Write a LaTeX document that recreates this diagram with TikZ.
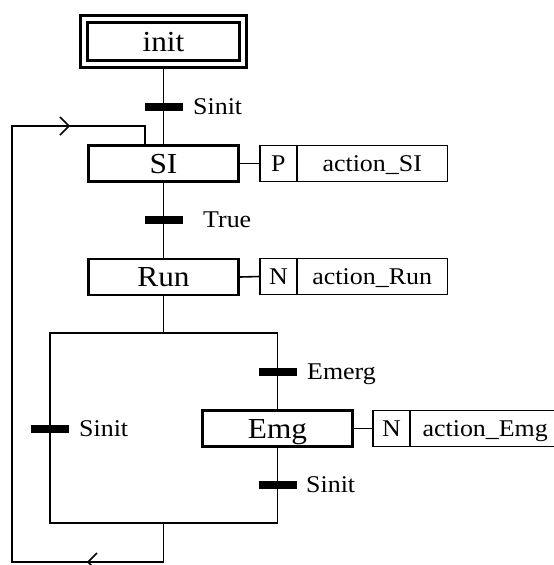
\documentclass[tikz,border=0pt]{standalone}
\usepackage{fontspec}
\setmainfont{Liberation Serif}[FakeStretch=1.08]
\begin{document}
\begin{tikzpicture}[x=1pt,y=-1pt,
  conn/.style={line width=1.6pt, line cap=rect},
  stepbox/.style={draw, line width=2.8pt, minimum width=150pt, minimum height=36pt, inner sep=0pt,
    font=\fontsize{29}{29}\selectfont, text height=19.2pt, text depth=0pt},
  initbox/.style={stepbox, double, double distance=3.7pt, line width=3.2pt,
    minimum width=159pt, minimum height=45pt, outer sep=5.05pt},
  qual/.style={draw, line width=1.6pt, minimum width=37.2pt, minimum height=36pt, inner sep=0pt, outer sep=0pt,
    font=\fontsize{24}{24}\selectfont, text height=15.9pt, text depth=0pt, anchor=west},
  act/.style={qual, minimum width=150.4pt},
  bar/.style={fill=black, minimum width=38pt, minimum height=8pt, inner sep=0pt},
  lbl/.style={anchor=west, inner sep=0pt, font=\fontsize{24}{24}\selectfont, text height=15.9pt, text depth=0pt},
  chev/.style={line width=1.6pt}
]
\useasboundingbox (0,0) rectangle (554,565);
\clip (0,0) rectangle (554,565);

% steps
\node[initbox] (init) at (163.5,41.5) {init};
\node[stepbox] (SI) at (163.5,163.5) {SI};
\node[stepbox] (Run) at (163.5,277) {Run};
\node[stepbox] (Emg) at (277.5,428.5) {Emg};

% actions
\node[qual] (qSI) at (259.8,163.5) {P};
\node[act] (aSI) at (qSI.east) {action\_SI};
\node[qual] (qRun) at (259.8,276.5) {N};
\node[act] (aRun) at (qRun.east) {action\_Run};
\node[qual] (qEmg) at (372.8,428.5) {N};
\node[act] (aEmg) at (qEmg.east) {action\_Emg};

% transitions
\node[bar] (t1) at (163.5,107) {};
\node[bar] (t2) at (163.5,220) {};
\node[bar] (t3) at (50,429) {};
\node[bar] (t4) at (277.5,372) {};
\node[bar] (t5) at (277.5,485) {};
\node[lbl] (l1) at (193,107) {Sinit};
\node[lbl] (l2) at (203,220) {True};
\node[lbl] (l3) at (79,429) {Sinit};
\node[lbl] (l4) at (307,372) {Emerg};
\node[lbl] (l5) at (306,485) {Sinit};

% coordinates
\coordinate (jt) at (163.5,333);
\coordinate (jtl) at (50,333);
\coordinate (jtr) at (277.5,333);
\coordinate (jb) at (163.5,523);
\coordinate (jbl) at (50,523);
\coordinate (jbr) at (277.5,523);
\coordinate (lp1) at (163.5,562);
\coordinate (lp2) at (12,562);
\coordinate (lp3) at (12,126);
\coordinate (lp4) at (145,126);
\coordinate (a1) at (69,126);
\coordinate (a2) at (88,562);

% connectors
\draw[conn] (init.south) -- (t1) -- (SI.north);
\draw[conn] (SI.south) -- (t2) -- (Run.north);
\draw[conn] (SI.east) -- (qSI.west);
\draw[conn] (Run.east) -- (qRun.west);
\draw[conn] (Emg.east) -- (qEmg.west);
\draw[conn] (Run.south) -- (jt);
\draw[conn] (jtl) -- (jtr);
\draw[conn] (jtl) -- (t3) -- (jbl);
\draw[conn] (jtr) -- (t4) -- (Emg.north);
\draw[conn] (Emg.south) -- (t5) -- (jbr);
\draw[conn] (jbl) -- (jbr);
\draw[conn] (jb) -- (lp1) -- (lp2) -- (lp3) -- (lp4) -- (lp4 |- SI.north);

% arrow marks
\draw[chev] ([shift={(-9,-9)}]a1) -- (a1) -- ([shift={(-9,9)}]a1);
\draw[chev] ([shift={(9,-9)}]a2) -- (a2) -- ([shift={(9,9)}]a2);
\end{tikzpicture}
\end{document}
